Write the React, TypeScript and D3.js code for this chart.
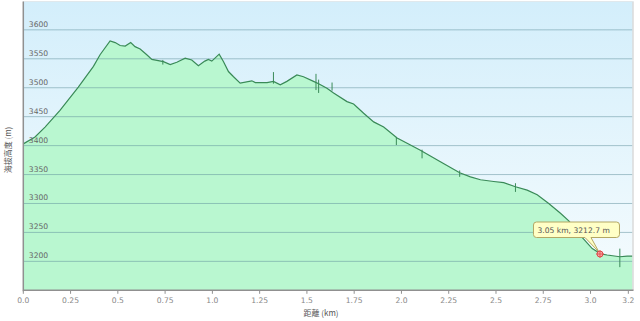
import React from "react";
import * as d3 from "d3";

const distances = [0.0, 0.062, 0.115, 0.194, 0.291, 0.371, 0.406, 0.459, 0.486, 0.512, 0.539, 0.568, 0.591, 0.618, 0.653, 0.68, 0.741, 0.777, 0.812, 0.856, 0.891, 0.926, 0.96, 0.979, 0.997, 1.036, 1.059, 1.085, 1.112, 1.147, 1.209, 1.227, 1.289, 1.323, 1.359, 1.394, 1.447, 1.482, 1.535, 1.562, 1.606, 1.641, 1.712, 1.747, 1.8, 1.853, 1.906, 1.977, 2.03, 2.1, 2.206, 2.308, 2.365, 2.418, 2.488, 2.541, 2.603, 2.665, 2.718, 2.779, 2.841, 2.885, 2.946, 3.009, 3.054, 3.088, 3.155, 3.194, 3.222];
const elevations = [3403, 3415, 3432, 3461, 3501, 3537, 3557, 3581, 3578, 3573, 3572, 3578, 3571, 3567, 3557, 3549, 3545, 3540, 3544, 3551, 3548, 3538, 3546, 3549, 3546, 3558, 3545, 3528, 3519, 3508, 3512, 3509, 3509, 3511, 3505, 3511, 3522, 3519, 3511, 3507, 3499, 3491, 3476, 3472, 3456, 3441, 3432, 3413, 3404, 3392, 3372, 3353, 3346, 3341, 3338, 3336, 3329, 3323, 3315, 3300, 3283, 3270, 3245, 3222, 3213, 3211, 3208, 3209, 3209];

const spikeX = [0.738, 1.323, 1.548, 1.562, 1.633, 1.973, 2.109, 2.308, 2.603, 3.155];
const spikeLo = [3540, 3507, 3496, 3491, 3495, 3401, 3378, 3346, 3320, 3190];
const spikeHi = [3548, 3527, 3524, 3514, 3509, 3415, 3393, 3357, 3335, 3222];

const xTicks = [0, 0.25, 0.5, 0.75, 1.0, 1.25, 1.5, 1.75, 2.0, 2.25, 2.5, 2.75, 3.0, 3.2];
const xTickLabels = ["0.0", "0.25", "0.5", "0.75", "1.0", "1.25", "1.5", "1.75", "2.0", "2.25", "2.5", "2.75", "3.0", "3.2"];
const yTicks = [3200, 3250, 3300, 3350, 3400, 3450, 3500, 3550, 3600];

const hoverKm = 3.05;
const hoverElev = 3212.7;
const hoverText = "3.05 km, 3212.7 m";
const xTitle = "距離 (km)";
const yTitle = "海拔高度 (m)";

const W = 640;
const H = 321;
const L = 23.3;
const R = 632.5;
const T = 1.5;
const B = 290.3;

export default function App() {
  const x = d3.scaleLinear().domain([0, 3.222]).range([L, R]);
  const y = d3.scaleLinear().domain([3150, 3649]).range([B, T]);
  const pts: [number, number][] = distances.map((d, i) => [d, elevations[i]]);
  const area = d3
    .area<[number, number]>()
    .x((d) => x(d[0]))
    .y0(B)
    .y1((d) => y(d[1]));
  const line = d3
    .line<[number, number]>()
    .x((d) => x(d[0]))
    .y((d) => y(d[1]));
  const font = "'DejaVu Sans', Verdana, sans-serif";
  const px = x(hoverKm);
  const py = y(hoverElev);
  const bx = px - 66.5;
  const by = py - 32;
  const bw = 86;
  const bh = 15.5;
  return (
    <svg
      width={W}
      height={H}
      style={{ position: "absolute", left: 0, top: 0, background: "#fff" }}
    >
      <defs>
        <linearGradient id="bg" x1="0" y1="0" x2="0" y2="1">
          <stop offset="0" stopColor="#d3eefb" />
          <stop offset="1" stopColor="#f6fcfe" />
        </linearGradient>
        <clipPath id="clip">
          <rect x={L} y={T} width={R - L} height={B - T} />
        </clipPath>
      </defs>
      <rect x={L} y={T} width={R - L} height={B - T} fill="url(#bg)" />
      <g clipPath="url(#clip)">
        <path d={area(pts) || ""} fill="#b9f7d0" />
        {yTicks.map((t) => (
          <line
            key={t}
            x1={L}
            x2={R}
            y1={y(t)}
            y2={y(t)}
            stroke="#5f8f9c"
            strokeOpacity={0.5}
            strokeWidth={1}
          />
        ))}
        <path d={line(pts) || ""} fill="none" stroke="#3a8a58" strokeWidth={1.2} />
        {spikeX.map((s, i) => (
          <line
            key={i}
            x1={x(s)}
            x2={x(s)}
            y1={y(spikeLo[i])}
            y2={y(spikeHi[i])}
            stroke="#3a8a58"
            strokeWidth={1}
          />
        ))}
      </g>
      {yTicks.map((t) => (
        <text
          key={t}
          x={L + 5.5}
          y={y(t) - 3}
          fontFamily={font}
          fontSize={7.6}
          fill="#666"
        >
          {t}
        </text>
      ))}
      <line x1={R + 0.5} x2={R + 0.5} y1={T} y2={B} stroke="#c8c8c8" strokeWidth={1} />
      <line x1={L} x2={R + 1} y1={T} y2={T} stroke="#e0e8ec" strokeWidth={1} />
      <line x1={L} x2={L} y1={T} y2={B + 1} stroke="#909090" strokeWidth={1.5} />
      <line x1={L} x2={R + 1} y1={B} y2={B} stroke="#909090" strokeWidth={1.5} />
      {xTicks.map((t, i) => (
        <g key={t}>
          <line x1={x(t)} x2={x(t)} y1={B} y2={B + 3.5} stroke="#909090" strokeWidth={1} />
          <text
            x={x(t)}
            y={303}
            textAnchor="middle"
            fontFamily={font}
            fontSize={7.6}
            fill="#888"
          >
            {xTickLabels[i]}
          </text>
        </g>
      ))}
      <text
        x={321}
        y={316}
        textAnchor="middle"
        fontFamily="'Noto Sans CJK SC', 'DejaVu Sans', sans-serif"
        fontSize={8}
        fill="#555"
      >
        {xTitle}
      </text>
      <text
        transform={`translate(10.5, 150) rotate(-90)`}
        textAnchor="middle"
        fontFamily="'Noto Sans CJK SC', 'DejaVu Sans', sans-serif"
        fontSize={8}
        fill="#555"
      >
        {yTitle}
      </text>
      <path
        d={`M${bx + 3},${by} H${bx + bw - 3} Q${bx + bw},${by} ${bx + bw},${by + 3} V${by + bh - 3} Q${bx + bw},${by + bh} ${bx + bw - 3},${by + bh} H${px - 9} L${px - 1},${py - 2} L${px - 15},${by + bh} H${bx + 3} Q${bx},${by + bh} ${bx},${by + bh - 3} V${by + 3} Q${bx},${by} ${bx + 3},${by} Z`}
        fill="#ffffc6"
        stroke="#b3a764"
        strokeWidth={1}
      />
      <text x={bx + 4} y={by + 11} fontFamily={font} fontSize={7.6} fill="#555">
        {hoverText}
      </text>
      <circle cx={px} cy={py} r={3} fill="#f6a8a8" stroke="#e04848" strokeWidth={1} />
      <line x1={px - 4} x2={px + 4} y1={py} y2={py} stroke="#e04848" strokeWidth={0.8} />
      <line x1={px} x2={px} y1={py - 4} y2={py + 4} stroke="#e04848" strokeWidth={0.8} />
    </svg>
  );
}
